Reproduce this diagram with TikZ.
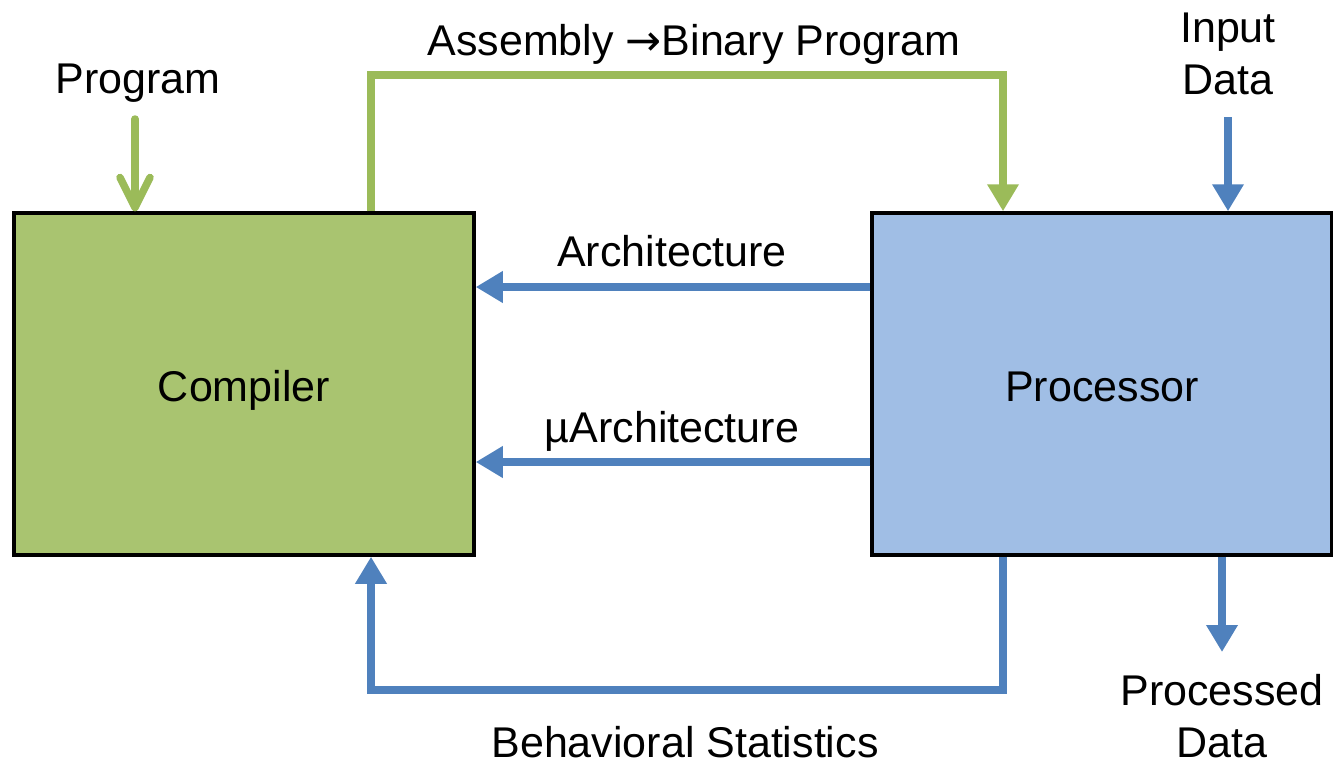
\documentclass[tikz,border=0pt]{standalone}
\usepackage{fontspec}
\setmainfont{Liberation Sans}
\newfontfamily\dejavu{DejaVu Sans}
\usetikzlibrary{arrows.meta}
\definecolor{gfill}{RGB}{169,196,112}
\definecolor{bfill}{RGB}{160,190,229}
\definecolor{gline}{RGB}{155,187,89}
\definecolor{bline}{RGB}{79,129,189}
\begin{document}
\begin{tikzpicture}[x=1pt,y=-1pt,
  box/.style={draw=black,line width=3.5pt,minimum width=460pt,minimum height=342pt,inner sep=0pt,font=\fontsize{43}{52}\selectfont},
  lbl/.style={font=\fontsize{43}{52}\selectfont,inner sep=0pt,align=center},
  gconn/.style={draw=gline,line width=7.5pt},
  bconn/.style={draw=bline,line width=7.5pt},
  tri/.style={-{Triangle[width=30pt,length=27pt]}},
  barb/.style={-{Straight Barb[width=30pt,length=30pt,line cap=round,line join=round]}, line cap=round}
]
\useasboundingbox (0,0) rectangle (1333,763);
\node[box,fill=gfill] (comp) at (244,384) {};
\node[box,fill=bfill] (proc) at (1102,384) {};
\node[lbl,anchor=base] (complbl) at (comp.center |- 0,401) {Compiler};
\node[lbl,anchor=base] (proclbl) at (proc.center |- 0,401) {Processor};

% Program input
\coordinate (progtop) at (135,119);
\draw[gconn,barb] (progtop) -- (progtop |- comp.north);
\node[lbl,anchor=base] (proglbl) at (138,93) {Program};

% Assembly -> Binary
\draw[gconn,tri] (comp.north -| 371,0) |- (1003,75) -- (proc.north -| 1003,0);
\node[lbl,anchor=base] (asmlbl) at (694,55) {Assembly {\dejavu →}Binary Program};

% Input data
\coordinate (intop) at (1228,117);
\draw[bconn,tri] (intop) -- (intop |- proc.north);
\node[lbl,anchor=north] (inlbl) at (1228,13) {Input\\Data};

% Architecture
\draw[bconn,tri] (proc.west |- 0,287) -- (comp.east |- 0,287);
\node[lbl,anchor=base] (archlbl) at (672,266) {Architecture};

% uArchitecture
\draw[bconn,tri] (proc.west |- 0,462) -- (comp.east |- 0,462);
\node[lbl,anchor=base] (uarchlbl) at (672,442) {µArchitecture};

% Behavioral statistics
\draw[bconn,tri] (proc.south -| 1003,0) |- (371,690) -- (comp.south -| 371,0);
\node[lbl,anchor=base] (behlbl) at (685,757) {Behavioral Statistics};

% Processed data
\coordinate (outend) at (1222,652);
\draw[bconn,tri] (proc.south -| outend) -- (outend);
\node[lbl,anchor=north] (outlbl) at (1222,674) {Processed\\Data};
\end{tikzpicture}
\end{document}
